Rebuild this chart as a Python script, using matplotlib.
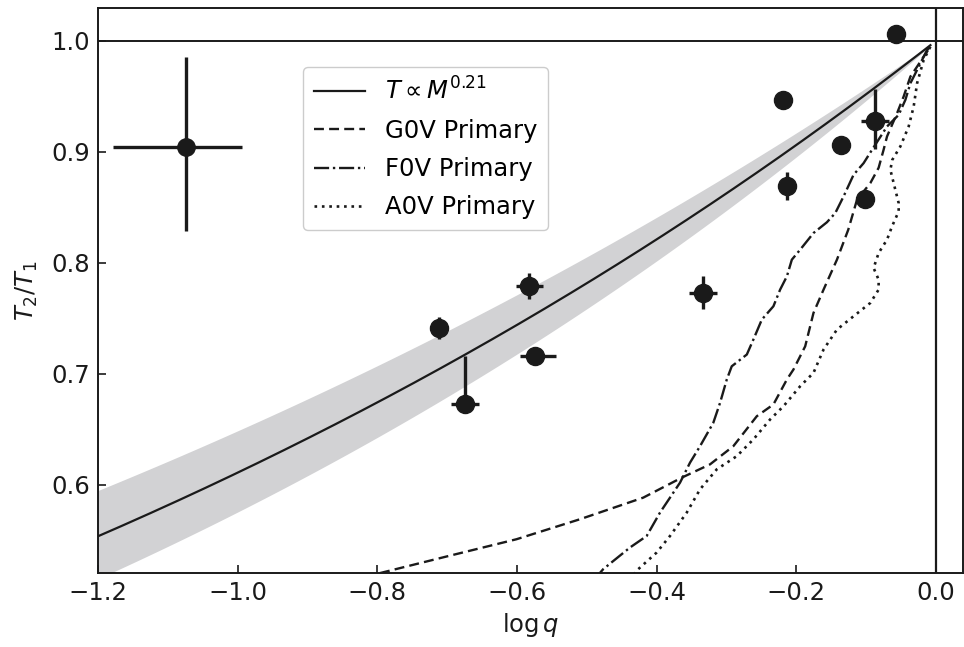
import numpy as np
import matplotlib
matplotlib.use("Agg")
import matplotlib.pyplot as plt

plt.rcParams['font.family'] = ['DejaVu Sans']
plt.rcParams['mathtext.fontset'] = 'dejavusans'

# Power-law model T2/T1 = q**alpha with its uncertainty band
alpha = 0.214
alpha_err = 0.026

# Measured systems: log q, T2/T1 and their errors (lower, upper)
logq = [-0.712, -0.674, -0.582, -0.5745, -0.333, -0.219, -0.2134,
        -0.136, -0.101, -0.0867, -0.0565]
tratio = [0.741, 0.673, 0.779, 0.7165, 0.773, 0.947, 0.869,
          0.906, 0.858, 0.928, 1.006]
xerr_lo = [0.0, 0.020, 0.019, 0.021, 0.020, 0.0, 0.0, 0.0, 0.0, 0.020, 0.0]
xerr_hi = [0.0, 0.020, 0.019, 0.031, 0.020, 0.0, 0.0, 0.0, 0.0, 0.020, 0.0]
yerr_lo = [0.010, 0.005, 0.012, 0.0, 0.015, 0.0, 0.0125, 0.0, 0.0, 0.025, 0.0]
yerr_hi = [0.010, 0.0435, 0.012, 0.0, 0.015, 0.0, 0.0125, 0.0, 0.0, 0.029, 0.0]

# Typical uncertainty shown in the corner
typ_x, typ_y = -1.074, 0.904
typ_xerr = [[0.105], [0.080]]
typ_yerr = [[0.075], [0.082]]

# Evolutionary tracks for different primaries
g0v_x = [-0.86, -0.7968, -0.7012, -0.6007, -0.5099, -0.4191, -0.364, -0.3234,
         -0.29, -0.2564, -0.2326, -0.2133, -0.2039, -0.1871, -0.1752, -0.1608,
         -0.1416, -0.1254, -0.1129, -0.0938, -0.0819, -0.0748, -0.0699, -0.0555,
         -0.0461, -0.0364, -0.0268, -0.0174, -0.0077]
g0v_y = [0.513, 0.5203, 0.5353, 0.5509, 0.5689, 0.5884, 0.6064, 0.6184,
         0.6348, 0.6618, 0.6724, 0.6949, 0.7039, 0.7248, 0.7549, 0.7759,
         0.8029, 0.8299, 0.8569, 0.8719, 0.8857, 0.9019, 0.9139, 0.9349,
         0.9499, 0.9679, 0.9769, 0.9859, 0.9949]

f0v_x = [-0.49, -0.4765, -0.4382, -0.4142, -0.3951, -0.3664, -0.3521, -0.3377,
         -0.3187, -0.309, -0.2994, -0.2923, -0.2707, -0.2613, -0.2492, -0.2326,
         -0.223, -0.2133, -0.2062, -0.1943, -0.1752, -0.156, -0.144, -0.1321,
         -0.1178, -0.1034, -0.0914, -0.0699, -0.0532, -0.0436, -0.0364, -0.0268,
         -0.0125, -0.0077]
f0v_y = [0.514, 0.5239, 0.5434, 0.5538, 0.5749, 0.6019, 0.6199, 0.6348,
         0.6559, 0.6739, 0.6949, 0.7068, 0.7174, 0.7309, 0.7489, 0.7609,
         0.7759, 0.7879, 0.8029, 0.8119, 0.8269, 0.8366, 0.8449, 0.8599,
         0.8794, 0.8899, 0.9019, 0.9229, 0.9334, 0.9469, 0.9619, 0.9739,
         0.9919, 0.9949]

a0v_x = [-0.44, -0.4263, -0.3999, -0.3808, -0.3568, -0.3377, -0.3138, -0.2851,
         -0.2613, -0.2373, -0.2182, -0.1943, -0.1752, -0.1608, -0.1416, -0.1178,
         -0.0938, -0.0819, -0.0819, -0.0891, -0.0819, -0.0699, -0.0627, -0.0532,
         -0.0532, -0.058, -0.0651, -0.0623, -0.0508, -0.0389, -0.0317, -0.0268,
         -0.0174, -0.0077]
a0v_y = [0.514, 0.5239, 0.5389, 0.5538, 0.5749, 0.5959, 0.6139, 0.6258,
         0.6409, 0.6589, 0.6708, 0.6888, 0.7009, 0.7219, 0.7399, 0.7519,
         0.7639, 0.7759, 0.7849, 0.7954, 0.8089, 0.8209, 0.8329, 0.8464,
         0.8539, 0.8659, 0.8839, 0.8929, 0.9049, 0.9229, 0.9409, 0.9619,
         0.9829, 0.9949]

xticks = [-1.2, -1.0, -0.8, -0.6, -0.4, -0.2, 0.0]
yticks = [0.6, 0.7, 0.8, 0.9, 1.0]

ink = '#1a1a1a'
fs = 17.5

fig = plt.figure(figsize=(9.64, 6.47), dpi=100)
ax = fig.add_axes([0.1017, 0.1144, 0.8973, 0.8732])

# model curve and band
lx = np.linspace(-1.25, -0.0077, 300)
ax.fill_between(lx, 10 ** (lx * (alpha + alpha_err)), 10 ** (lx * (alpha - alpha_err)),
                color='#d2d2d4', lw=0, zorder=1)
ax.plot(lx, 10 ** (lx * alpha), color=ink, lw=1.6, zorder=3,
        label=r'$T \propto M^{0.21}$')

# tracks
ax.plot(g0v_x, g0v_y, color=ink, lw=1.7, ls=(0, (4.2, 2.2)), zorder=3, label='G0V Primary')
ax.plot(f0v_x, f0v_y, color=ink, lw=1.7, ls='-.', zorder=3, label='F0V Primary')
ax.plot(a0v_x, a0v_y, color=ink, lw=1.9, ls=(0, (1, 1.8)), zorder=3, label='A0V Primary')

# reference lines
ax.axhline(1.0, color=ink, lw=1.4, zorder=2)
ax.axvline(0.0, color=ink, lw=1.6, zorder=2)

# data
ax.errorbar(logq, tratio, xerr=[xerr_lo, xerr_hi], yerr=[yerr_lo, yerr_hi],
            fmt='o', color=ink, ms=13, elinewidth=2.4, capsize=0, zorder=5)
ax.errorbar([typ_x], [typ_y], xerr=typ_xerr, yerr=typ_yerr,
            fmt='o', color=ink, ms=12.5, elinewidth=2.4, capsize=0, zorder=5)

ax.set_xlim(-1.2, 0.039)
ax.set_ylim(0.5205, 1.0297)
ax.set_xticks(xticks)
ax.set_yticks(yticks)
ax.set_xticklabels([f'{t:.1f}'.replace('-', '\u2212') for t in xticks])
ax.set_yticklabels([f'{t:.1f}' for t in yticks])
ax.tick_params(direction='in', length=6, width=1.2, labelsize=fs, colors=ink, pad=6)
for s in ax.spines.values():
    s.set_linewidth(1.4)
    s.set_color(ink)

ax.set_xlabel(r'$\log q$', fontsize=fs, color=ink, labelpad=4)
ax.set_ylabel(r'$T_2/T_1$', fontsize=fs, color=ink, labelpad=8)

ax.legend(loc='upper left', bbox_to_anchor=(0.2373, 0.8961), borderaxespad=0,
          fontsize=fs, frameon=True, framealpha=1, edgecolor='#cccccc',
          handlelength=2.1, labelspacing=0.58, borderpad=0.45)

fig.savefig('out.png', dpi=100)
